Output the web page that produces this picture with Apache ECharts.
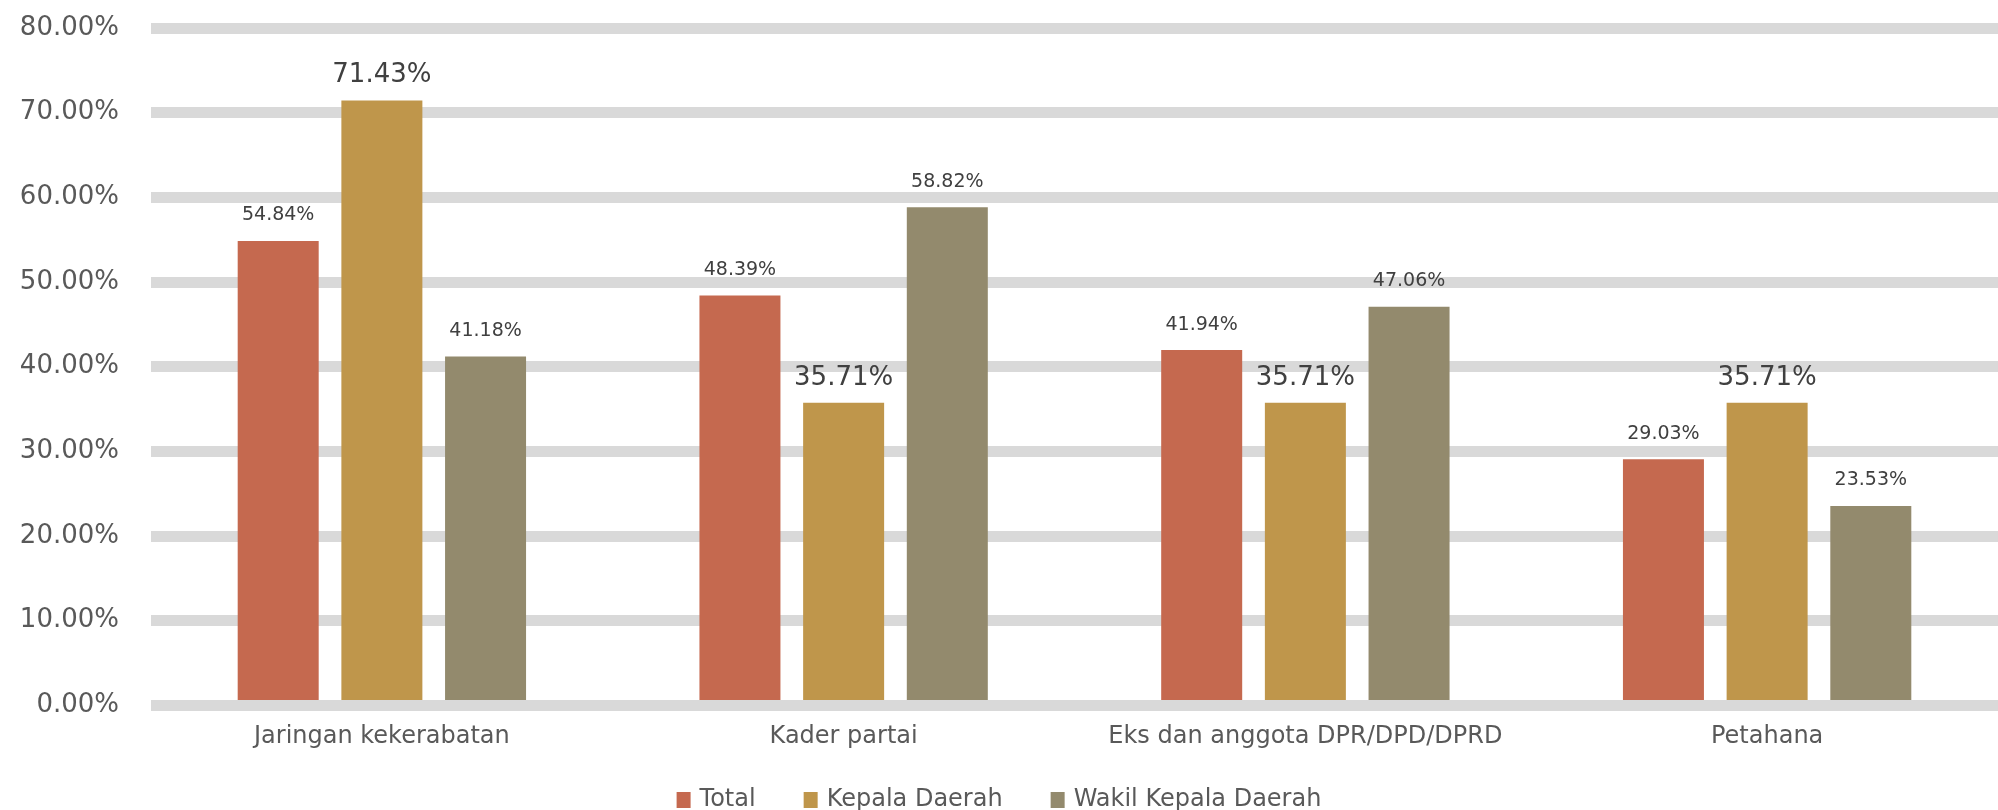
<!DOCTYPE html>
<html>
<head>
<meta charset="utf-8">
<script src="https://cdn.jsdelivr.net/npm/echarts@6/dist/echarts.min.js"></script>
<style>
  html, body { margin: 0; padding: 0; background: #fff; }
  #chart { width: 1998px; height: 810px; }
</style>
</head>
<body>
<div id="chart"></div>
<script>
// data
const categories = ['Jaringan kekerabatan', 'Kader partai', 'Eks dan anggota DPR/DPD/DPRD', 'Petahana'];
const seriesNames = ['Total', 'Kepala Daerah', 'Wakil Kepala Daerah'];
const totalValues = [54.84, 48.39, 41.94, 29.03];
const kepalaValues = [71.43, 35.71, 35.71, 35.71];
const wakilValues = [41.18, 58.82, 47.06, 23.53];
const yMin = 0, yMax = 80, yStep = 10;

const colors = ['#C5694F', '#BF964B', '#938A6D'];
const font = 'DejaVu Sans';

const pct = v => Number(v).toFixed(2) + '%';

function smallLabel() {
    return {
        show: true, position: 'top', distance: 16,
        formatter: p => pct(p.value),
        fontFamily: font, fontSize: 19, color: '#404040'
    };
}

const chart = echarts.init(document.getElementById('chart'), null, { renderer: 'canvas' });

chart.setOption({
    animation: false,
    color: colors,
    grid: { left: 151, right: -6, top: 28, bottom: 105, containLabel: false },
    legend: {
        data: seriesNames,
        top: 783,
        left: 'center',
        icon: 'rect',
        itemWidth: 14,
        itemHeight: 16,
        itemGap: 48,
        textStyle: { fontFamily: font, fontSize: 24, color: '#595959', padding: [0, 0, 0, 4] }
    },
    xAxis: {
        type: 'category',
        data: categories,
        z: 3,
        axisLine: { show: true, lineStyle: { color: '#D9D9D9', width: 11, cap: 'butt' } },
        axisTick: { show: false },
        axisLabel: { interval: 0, margin: 20, fontFamily: font, fontSize: 24, color: '#595959' }
    },
    yAxis: {
        type: 'value',
        min: yMin, max: yMax, interval: yStep,
        axisLine: { show: false },
        axisTick: { show: false },
        splitLine: { show: true, lineStyle: { color: '#D9D9D9', width: 11, cap: 'butt' } },
        axisLabel: {
            margin: 32, fontFamily: font, fontSize: 26, color: '#595959',
            padding: [0, 0, 8, 0],
            formatter: v => pct(v)
        }
    },
    series: [
        {
            name: seriesNames[0], type: 'bar', data: totalValues,
            barWidth: 81, barGap: '28%',
            label: smallLabel()
        },
        {
            name: seriesNames[1], type: 'bar', data: kepalaValues,
            barWidth: 81, barGap: '28%',
            label: {
                show: true, position: 'top', distance: 12,
                formatter: p => pct(p.value),
                fontFamily: font, fontSize: 26, color: '#404040'
            }
        },
        {
            name: seriesNames[2], type: 'bar', data: wakilValues,
            barWidth: 81, barGap: '28%',
            label: smallLabel()
        }
    ]
});
</script>
</body>
</html>
